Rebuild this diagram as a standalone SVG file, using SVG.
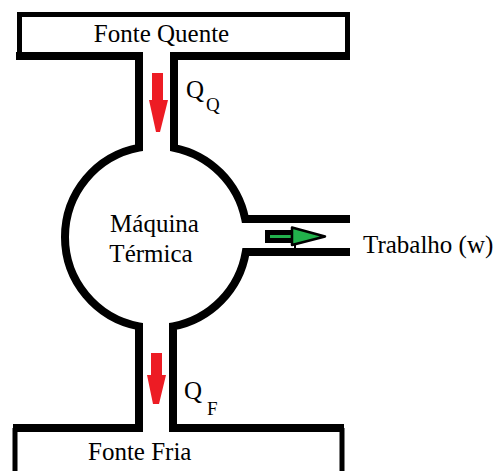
<svg xmlns="http://www.w3.org/2000/svg" width="494" height="471" viewBox="0 0 494 471">
<style>
.wall{fill:none;stroke:#000;stroke-width:8;stroke-linejoin:miter}
.edge{fill:none;stroke:#000;stroke-width:5}
.t{font-family:"Liberation Serif","Times New Roman",serif;font-size:25px;fill:#000}
.sub{font-size:19px}
.heat{fill:#ed1c24}
.work{fill:#22b14c;stroke:#000;stroke-width:2.5;stroke-linejoin:round}
</style>
<rect width="494" height="471" fill="#fff"/>
<g id="fonte-quente">
<path class="edge" d="M19.5 56V14.5H347.5V56"/>
<text class="t" x="161.5" y="42" text-anchor="middle">Fonte Quente</text>
</g>
<g id="maquina-termica">
<text class="t" x="154.5" y="232" text-anchor="middle">Máquina</text>
<text class="t" x="151" y="262" text-anchor="middle">Térmica</text>
</g>
<g id="fonte-fria">
<path class="edge" d="M15 428V475M342 428V475"/>
<text class="t" x="88" y="460">Fonte Fria</text>
</g>
<g id="trabalho">
<text class="t" x="363" y="253">Trabalho (w)</text>
</g>
<g id="connectors">
<path class="wall" d="M16 56H139V147.6A91 91 0 0 0 139 326.4V428H13"/>
<path class="wall" d="M350 56H174V147.8A91 91 0 0 1 245.2 219H350"/>
<path class="wall" d="M350 252H245.8A91 91 0 0 1 173 326.4V428H344"/>
<polygon class="heat" points="152,73 163,73 163,100 168,100 160,132 156,132 149,100 152,100"/>
<polygon class="heat" points="151,353 162,353 162,375 166,375 159,404 153,404 147,375 151,375"/>
<rect x="265" y="230" width="29" height="13" fill="#000"/>
<rect x="270" y="235" width="24" height="3" fill="#22b14c"/>
<polygon class="work" points="292,227.5 325,236.5 292,245"/>
<path d="M295 243V249" stroke="#000" stroke-width="2"/>
<text class="t" x="186" y="98">Q<tspan class="sub" x="206" y="111">Q</tspan></text>
<text class="t" x="184" y="399">Q<tspan class="sub" x="207" y="415">F</tspan></text>
</g>
</svg>
